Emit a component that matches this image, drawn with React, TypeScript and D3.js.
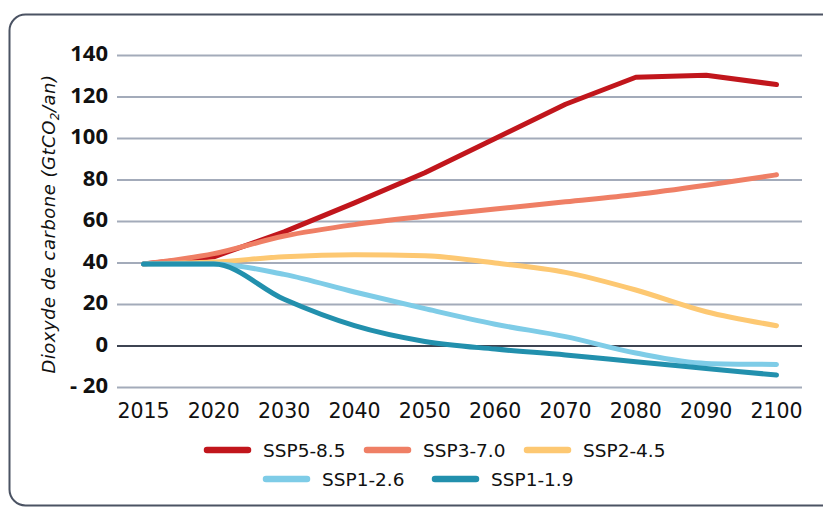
import React, { useEffect, useRef } from 'react';
import * as d3 from 'd3';

const years = ['2015', '2020', '2030', '2040', '2050', '2060', '2070', '2080', '2090', '2100'];
const yTicks = [-20, 0, 20, 40, 60, 80, 100, 120, 140];

const ssp585 = [39.5, 43, 55, 69, 83.5, 100, 116.5, 129.5, 130.5, 126];
const ssp370 = [39.5, 44.5, 53, 58.5, 62.5, 66, 69.5, 73, 77.5, 82.5];
const ssp245 = [39.5, 40.5, 43, 44, 43.5, 40, 35.5, 27, 16.5, 9.8];
const ssp126 = [39.5, 39.5, 34.5, 26, 18, 10.5, 4.5, -3.4, -8.4, -8.9];
const ssp119 = [39.5, 39.5, 22.5, 9.8, 2.2, -1.5, -4.3, -7.6, -10.8, -14];

const seriesNames = ['SSP5-8.5', 'SSP3-7.0', 'SSP2-4.5', 'SSP1-2.6', 'SSP1-1.9'];
const seriesColors = ['#c1161c', '#ef7f65', '#fdc872', '#7ecce7', '#2290ad'];
const seriesValues = [ssp585, ssp370, ssp245, ssp126, ssp119];

const WIDE = '"DejaVu Sans", sans-serif';
const BOLD = '"Open Sans", "Noto Sans", sans-serif';

const App = () => {
  const svgRef = useRef<SVGSVGElement>(null);

  useEffect(() => {
    const width = 823;
    const height = 509;
    const svg = d3.select(svgRef.current);
    svg.selectAll('*').remove();
    svg.attr('width', width).attr('height', height);

    // frame
    svg
      .append('rect')
      .attr('x', 9.5)
      .attr('y', 14.5)
      .attr('width', 830)
      .attr('height', 491)
      .attr('rx', 16)
      .attr('fill', 'none')
      .attr('stroke', '#4b5363')
      .attr('stroke-width', 2);

    const x = d3.scalePoint().domain(years).range([143.5, 776.5]);
    const y = d3.scaleLinear().domain([-20, 140]).range([387.5, 55.5]);
    const gridX0 = 117;
    const gridX1 = 802;

    // gridlines
    svg
      .append('g')
      .selectAll('line')
      .data(yTicks)
      .join('line')
      .attr('x1', gridX0)
      .attr('x2', gridX1)
      .attr('y1', (d) => y(d))
      .attr('y2', (d) => y(d))
      .attr('stroke', (d) => (d === 0 ? '#3e4452' : '#a3abba'))
      .attr('stroke-width', 2);

    // y tick labels
    svg
      .append('g')
      .selectAll('text')
      .data(yTicks)
      .join('text')
      .attr('x', 108)
      .attr('y', (d) => y(d) + 5.5)
      .attr('text-anchor', 'end')
      .attr('font-family', BOLD)
      .attr('font-weight', 700)
      .attr('font-size', 22)
      .attr('fill', '#111')
      .text((d) => (d < 0 ? `- ${Math.abs(d)}` : `${d}`));

    // x tick labels
    svg
      .append('g')
      .selectAll('text')
      .data(years)
      .join('text')
      .attr('x', (d) => x(d) as number)
      .attr('y', 418)
      .attr('text-anchor', 'middle')
      .attr('font-family', WIDE)
      .attr('font-size', 20.5)
      .attr('fill', '#111')
      .text((d) => d);

    // y axis title
    const title = svg
      .append('text')
      .attr('transform', 'translate(55,224) rotate(-90)')
      .attr('text-anchor', 'middle')
      .attr('font-family', WIDE)
      .attr('font-style', 'italic')
      .attr('font-size', 18)
      .attr('letter-spacing', 0.5)
      .attr('fill', '#111');
    title.append('tspan').text('Dioxyde de carbone (GtCO');
    title.append('tspan').attr('font-size', 12).attr('dy', 4).text('2');
    title.append('tspan').attr('dy', -4).text('/an)');

    // lines
    seriesValues.forEach((vals, i) => {
      const line = d3
        .line<number>()
        .x((_, j) => x(years[j]) as number)
        .y((d) => y(d))
        .curve(i === 0 ? d3.curveLinear : d3.curveMonotoneX);
      svg
        .append('path')
        .datum(vals)
        .attr('fill', 'none')
        .attr('stroke', seriesColors[i])
        .attr('stroke-width', 5)
        .attr('stroke-linecap', 'round')
        .attr('stroke-linejoin', 'round')
        .attr('d', line);
    });

    // legend
    const legendPos = [
      { x: 207, y: 450 },
      { x: 367, y: 450 },
      { x: 527, y: 450 },
      { x: 266, y: 479 },
      { x: 435, y: 479 },
    ];
    const legend = svg
      .append('g')
      .selectAll('g')
      .data(seriesNames)
      .join('g')
      .attr('transform', (_, i) => `translate(${legendPos[i].x},${legendPos[i].y})`);
    legend
      .append('line')
      .attr('x1', 0)
      .attr('x2', 41)
      .attr('stroke', (_, i) => seriesColors[i])
      .attr('stroke-width', 6.5)
      .attr('stroke-linecap', 'round');
    legend
      .append('text')
      .attr('x', 56)
      .attr('dy', '0.36em')
      .attr('font-family', WIDE)
      .attr('font-size', 18.5)
      .attr('fill', '#111')
      .text((d) => d);
  }, []);

  return <svg ref={svgRef} style={{ position: 'absolute', left: 0, top: 0 }}></svg>;
};

export default App;
